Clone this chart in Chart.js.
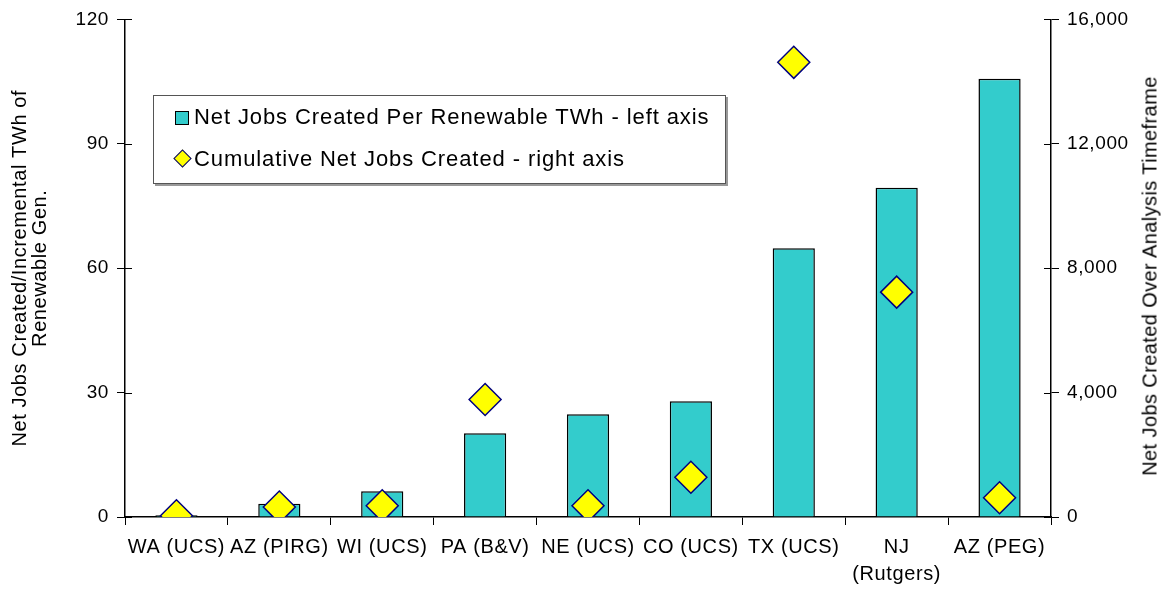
<!DOCTYPE html>
<html>
<head>
<meta charset="utf-8">
<script src="https://cdn.jsdelivr.net/npm/chart.js@4.4.1/dist/chart.umd.min.js"></script>
<style>
  body { margin: 0; background: #fff; }
  #wrap { position: relative; width: 1164px; height: 592px; font-family: "Liberation Sans", Arial, sans-serif; }
  #legend { position: absolute; left: 153px; top: 95px; width: 571px; height: 87px; border: 1px solid #555; box-shadow: 2px 2px 0 #999; background: #fff; font-size: 22px; letter-spacing: 0.9px; color: #000; }
  .item { position: absolute; left: 21px; white-space: nowrap; }
  .sw { display: inline-block; width: 12px; height: 12px; background: #33cccc; border: 1px solid #000; margin-right: 5px; vertical-align: -1px; }
  .dm { display: inline-block; width: 11px; height: 11px; background: #ffff00; border: 1.5px solid #000080; transform: rotate(45deg); margin: 0 5px 0 1px; vertical-align: 1px; }
  #rtitle { position: absolute; left: 1150px; top: 276px; transform: translate(-50%, -50%) rotate(-90deg); white-space: nowrap; font-size: 20px; letter-spacing: 0.4px; }
</style>
</head>
<body>
<div id="wrap">
  <canvas id="myChart" width="1164" height="592"></canvas>
  <div id="legend">
    <div class="item" style="top:8px"><span class="sw"></span>Net Jobs Created Per Renewable TWh - left axis</div>
    <div class="item" style="top:50px"><span class="dm"></span>Cumulative Net Jobs Created - right axis</div>
  </div>
  <div id="rtitle">Net Jobs Created Over Analysis Timeframe</div>
</div>
<script>
var studi = ['WA (UCS)', 'AZ (PIRG)', 'WI (UCS)', 'PA (B&V)', 'NE (UCS)', 'CO (UCS)', 'TX (UCS)', ['NJ', '(Rutgers)'], 'AZ (PEG)'];
var jobs_per_twh = [0.4, 3.2, 6.2, 20.2, 24.8, 27.9, 64.8, 79.4, 105.7];
var jobs_total = [40, 320, 360, 3780, 360, 1280, 14620, 7230, 620];

var ctx = document.getElementById('myChart').getContext('2d');
var hitam = '#000';
var keluarga = '"Liberation Sans", Arial, sans-serif';

// the original text is a bit spaced out
var jarakHuruf = {
    id: 'jarakHuruf',
    beforeLayout: function (chart) { chart.ctx.letterSpacing = '0.6px'; },
    beforeDraw: function (chart) { chart.ctx.letterSpacing = '0.6px'; }
};

// ticks on the y axes cross the axis line like the original
var tickSilang = {
    id: 'tickSilang',
    afterDraw: function (chart) {
        var c = chart.ctx;
        c.save();
        c.strokeStyle = hitam;
        c.lineWidth = 1;
        ['y', 'y1'].forEach(function (id) {
            var sc = chart.scales[id];
            var x = id == 'y' ? chart.chartArea.left : chart.chartArea.right;
            var arah = id == 'y' ? 1 : -1;
            sc.ticks.forEach(function (t) {
                var py = Math.round(sc.getPixelForValue(t.value)) + 0.5;
                c.beginPath();
                c.moveTo(x, py);
                c.lineTo(x + arah * 7, py);
                c.stroke();
            });
        });
        c.restore();
    }
};

var myChart = new Chart(ctx, {
    type: 'bar',
    data: {
        labels: studi,
        datasets: [
            {
                label: 'Net Jobs Created Per Renewable TWh - left axis',
                data: jobs_per_twh,
                backgroundColor: '#33cccc',
                borderColor: hitam,
                borderWidth: 1.5,
                yAxisID: 'y',
                categoryPercentage: 1,
                barPercentage: 0.41,
                order: 2
            },
            {
                type: 'line',
                label: 'Cumulative Net Jobs Created - right axis',
                data: jobs_total,
                showLine: false,
                pointStyle: 'rectRot',
                pointRadius: 16,
                pointBackgroundColor: '#ffff00',
                pointBorderColor: '#000080',
                pointBorderWidth: 1.5,
                yAxisID: 'y1',
                order: 1
            }
        ]
    },
    options: {
        responsive: false,
        animation: false,
        layout: { padding: { top: 18, left: 0, right: 0, bottom: 0 } },
        plugins: { legend: { display: false }, tooltip: { enabled: false } },
        scales: {
            x: {
                grid: { drawOnChartArea: false, offset: true, tickLength: 8, color: hitam },
                border: { color: hitam, width: 1.5 },
                ticks: { color: hitam, font: { family: keluarga, size: 20, lineHeight: 1.35 }, padding: 9, maxRotation: 0, autoSkip: false },
                afterFit: function (s) { s.height = 75; }
            },
            y: {
                position: 'left',
                min: 0, max: 120,
                ticks: { stepSize: 30, color: hitam, font: { family: keluarga, size: 19 }, padding: 8 },
                grid: { drawOnChartArea: false, tickLength: 8, color: hitam },
                border: { color: hitam, width: 1.5 },
                title: {
                    display: true,
                    text: ['Net Jobs Created/Incremental TWh of', 'Renewable Gen.'],
                    color: hitam,
                    font: { family: keluarga, size: 20, lineHeight: 1.0 },
                    padding: { top: 10, bottom: 0 }
                },
                afterFit: function (s) { s.width = 125; }
            },
            y1: {
                position: 'right',
                min: 0, max: 16000,
                ticks: {
                    stepSize: 4000, color: hitam, font: { family: keluarga, size: 19 }, padding: 8,
                    callback: function (v) { return v.toLocaleString('en-US'); }
                },
                grid: { drawOnChartArea: false, tickLength: 8, color: hitam },
                border: { color: hitam, width: 1.5 },
                afterFit: function (s) { s.width = 113; }
            }
        }
    },
    plugins: [jarakHuruf, tickSilang]
});
</script>
</body>
</html>
